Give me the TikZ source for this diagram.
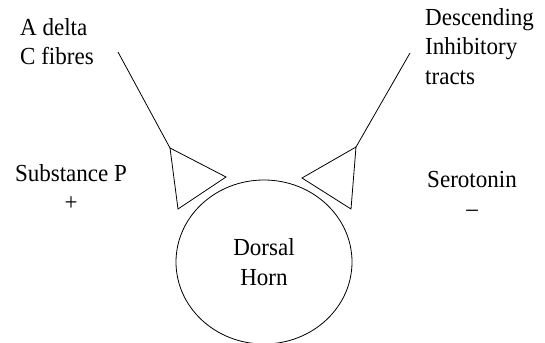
\documentclass[tikz,border=0pt]{standalone}
\usepackage{fontspec}
\setmainfont[FakeStretch=0.94]{Liberation Serif}
\usetikzlibrary{shapes.geometric}
\begin{document}
\begin{tikzpicture}[x=1pt,y=-1pt,
  lbl/.style={inner sep=0pt, font=\fontsize{24.5}{29.5}\selectfont},
  stroke/.style={line width=0.8pt}]
\useasboundingbox (0,0) rectangle (545,342);
% triangles (synapse endings)
\coordinate (lt) at (170,148);
\coordinate (lb) at (178,209);
\coordinate (ltip) at (226,177);
\coordinate (rt) at (356,147);
\coordinate (rb) at (351,209);
\coordinate (rtip) at (302,178);
\coordinate (lend) at (118,52);
\coordinate (rend) at (410,53);
\draw[stroke, line join=miter] (lt) -- (ltip) -- (lb) -- cycle;
\draw[stroke, line join=miter] (rt) -- (rtip) -- (rb) -- cycle;
\draw[stroke] (lend) -- (lt);
\draw[stroke] (rend) -- (rt);
% dorsal horn
\node[stroke, draw, ellipse, minimum width=176pt, minimum height=164pt, inner sep=0pt,
      lbl, align=center] (dh) at (264,262) {Dorsal\\Horn};
% labels
\node[lbl, align=left, anchor=north west] (afib) at (20,18) {A delta\\C fibres};
\node[lbl, align=left, anchor=north west] (desc) at (425,8) {Descending\\Inhibitory\\tracts};
\node[lbl, align=center, anchor=north] (subp) at (71,164) {Substance P\\+};
\node[lbl, align=center, anchor=north] (sero) at (472,171) {Serotonin\\\textendash};
\end{tikzpicture}
\end{document}
